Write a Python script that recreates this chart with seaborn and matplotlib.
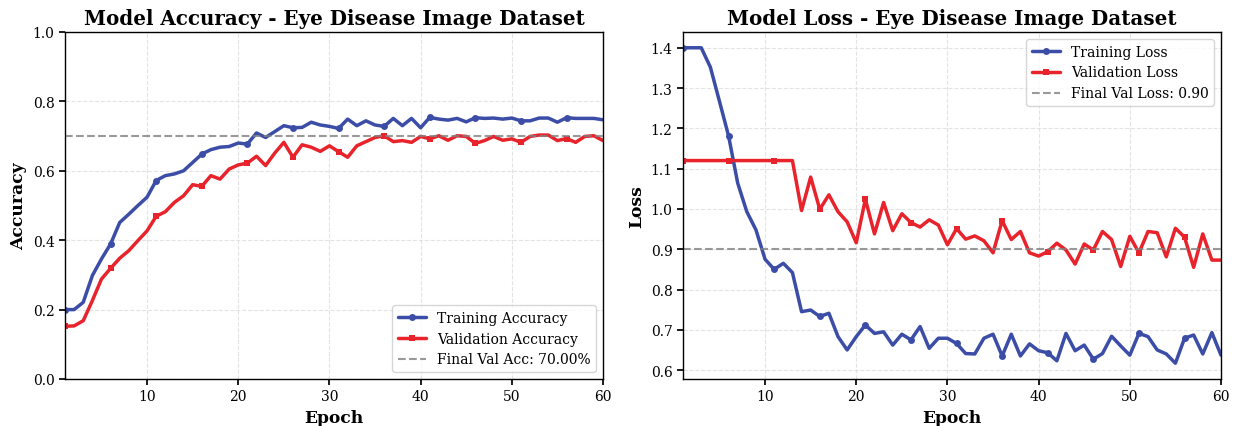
import numpy as np
import pandas as pd
import matplotlib
matplotlib.use("Agg")
import matplotlib.pyplot as plt
import seaborn as sns

epochs = list(range(1, 61))

train_acc = [0.20, 0.20, 0.221, 0.298, 0.346, 0.389, 0.451, 0.475, 0.50, 0.524,
             0.572, 0.586, 0.591, 0.60, 0.624, 0.648, 0.661, 0.668, 0.670, 0.68,
             0.677, 0.709, 0.696, 0.713, 0.73, 0.724, 0.725, 0.74, 0.732, 0.728,
             0.722, 0.749, 0.73, 0.744, 0.732, 0.728, 0.751, 0.73, 0.751, 0.724,
             0.754, 0.749, 0.746, 0.751, 0.741, 0.753, 0.751, 0.752, 0.749, 0.752,
             0.744, 0.744, 0.752, 0.752, 0.74, 0.753, 0.751, 0.751, 0.751, 0.747]
val_acc = [0.152, 0.153, 0.168, 0.226, 0.288, 0.319, 0.348, 0.37, 0.399, 0.427,
           0.469, 0.482, 0.509, 0.528, 0.56, 0.555, 0.586, 0.576, 0.605, 0.617,
           0.622, 0.642, 0.615, 0.651, 0.682, 0.639, 0.675, 0.668, 0.656, 0.672,
           0.655, 0.639, 0.672, 0.684, 0.696, 0.701, 0.684, 0.687, 0.682, 0.699,
           0.692, 0.701, 0.688, 0.701, 0.699, 0.679, 0.687, 0.699, 0.688, 0.692,
           0.682, 0.699, 0.703, 0.703, 0.687, 0.693, 0.682, 0.699, 0.701, 0.687]
train_loss = [1.40, 1.40, 1.40, 1.352, 1.267, 1.181, 1.064, 0.993, 0.948, 0.875,
              0.85, 0.865, 0.842, 0.745, 0.749, 0.733, 0.741, 0.683, 0.65, 0.683,
              0.712, 0.691, 0.695, 0.662, 0.689, 0.675, 0.708, 0.654, 0.679, 0.679,
              0.666, 0.641, 0.64, 0.679, 0.689, 0.635, 0.689, 0.635, 0.665, 0.648,
              0.643, 0.623, 0.691, 0.648, 0.662, 0.627, 0.641, 0.684, 0.66, 0.637,
              0.691, 0.683, 0.65, 0.64, 0.617, 0.679, 0.687, 0.64, 0.693, 0.637]
val_loss = [1.12, 1.12, 1.12, 1.12, 1.12, 1.12, 1.12, 1.12, 1.12, 1.12,
            1.12, 1.12, 1.12, 0.996, 1.079, 0.999, 1.035, 0.993, 0.968, 0.916,
            1.024, 0.938, 1.016, 0.946, 0.988, 0.966, 0.955, 0.973, 0.96, 0.911,
            0.951, 0.925, 0.933, 0.921, 0.891, 0.971, 0.924, 0.944, 0.891, 0.883,
            0.894, 0.915, 0.898, 0.863, 0.913, 0.898, 0.944, 0.924, 0.857, 0.932,
            0.891, 0.944, 0.941, 0.881, 0.952, 0.93, 0.855, 0.938, 0.873, 0.873]

final_val_acc = 0.70
final_val_loss = 0.90

sns.set_theme(style="whitegrid")
plt.rcParams['font.family'] = ['DejaVu Serif']
plt.rcParams.update({
    'axes.edgecolor': 'black',
    'axes.linewidth': 1.0,
    'grid.linestyle': '--',
    'grid.color': '#dddddd',
    'grid.alpha': 0.8,
    'grid.linewidth': 0.8,
    'xtick.bottom': True,
    'ytick.left': True,
    'xtick.color': 'black',
    'ytick.color': 'black',
    'text.color': 'black',
    'axes.labelcolor': 'black',
    'xtick.major.size': 4,
    'ytick.major.size': 4,
})

blue = '#3B4DA6'
red = '#E8232B'

df = pd.DataFrame({'epoch': epochs, 'train_acc': train_acc, 'val_acc': val_acc,
                   'train_loss': train_loss, 'val_loss': val_loss})

fig = plt.figure(figsize=(12.33, 4.27), dpi=100)
ax1 = fig.add_axes([65/1233, 1-380/427, (603-65)/1233, (380-33)/427])
ax2 = fig.add_axes([683/1233, 1-380/427, (1221-683)/1233, (380-33)/427])

sns.lineplot(data=df, x='epoch', y='train_acc', ax=ax1, color=blue, linewidth=2.5,
             marker='o', markersize=5, markevery=5, markeredgewidth=0,
             label='Training Accuracy')
sns.lineplot(data=df, x='epoch', y='val_acc', ax=ax1, color=red, linewidth=2.5,
             marker='s', markersize=5, markevery=5, markeredgewidth=0,
             label='Validation Accuracy')
ax1.axhline(final_val_acc, color='gray', linestyle='--', linewidth=1.5, alpha=0.8,
            label=f'Final Val Acc: {final_val_acc*100:.2f}%')
ax1.set_xlim(1, 60)
ax1.set_ylim(0, 1.0)
ax1.set_title('Model Accuracy - Eye Disease Image Dataset', fontsize=14.3, fontweight='bold')
ax1.set_xlabel('Epoch', fontsize=12.3, fontweight='bold')
ax1.set_ylabel('Accuracy', fontsize=12.3, fontweight='bold')
ax1.tick_params(labelsize=10)
ax1.legend(loc='lower right', fontsize=10, frameon=True, edgecolor='#cccccc')

sns.lineplot(data=df, x='epoch', y='train_loss', ax=ax2, color=blue, linewidth=2.5,
             marker='o', markersize=5, markevery=5, markeredgewidth=0,
             label='Training Loss')
sns.lineplot(data=df, x='epoch', y='val_loss', ax=ax2, color=red, linewidth=2.5,
             marker='s', markersize=5, markevery=5, markeredgewidth=0,
             label='Validation Loss')
ax2.axhline(final_val_loss, color='gray', linestyle='--', linewidth=1.5, alpha=0.8,
            label=f'Final Val Loss: {final_val_loss:.2f}')
ax2.set_xlim(1, 60)
ax2.set_title('Model Loss - Eye Disease Image Dataset', fontsize=14.3, fontweight='bold')
ax2.set_xlabel('Epoch', fontsize=12.3, fontweight='bold')
ax2.set_ylabel('Loss', fontsize=12.3, fontweight='bold')
ax2.tick_params(labelsize=10)
ax2.legend(loc='upper right', fontsize=10, frameon=True, edgecolor='#cccccc')

for ax in (ax1, ax2):
    for s in ax.spines.values():
        s.set_color('black')
        s.set_linewidth(1.0)

fig.savefig('out.png', dpi=100)
